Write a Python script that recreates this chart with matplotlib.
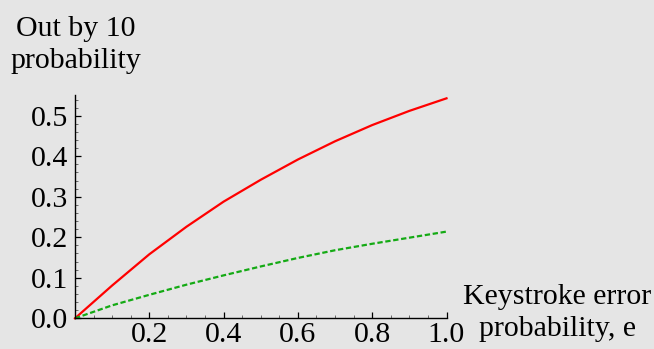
import numpy as np
import matplotlib
matplotlib.use("Agg")
import matplotlib.pyplot as plt
from matplotlib.ticker import MultipleLocator

# keystroke error probability and the two out-by-10 curves
e = [0.0, 0.1, 0.2, 0.3, 0.4, 0.5, 0.6, 0.7, 0.8, 0.9, 1.0]
p_red = [0.0, 0.081, 0.158, 0.226, 0.288, 0.342, 0.392, 0.437, 0.477, 0.512, 0.543]
p_green = [0.0, 0.032, 0.058, 0.083, 0.106, 0.128, 0.149, 0.168, 0.184, 0.199, 0.214]
x_ticks = [0.2, 0.4, 0.6, 0.8, 1.0]
y_ticks = [0.0, 0.1, 0.2, 0.3, 0.4, 0.5]

bg = "#e5e5e5"
plt.rcParams['font.family'] = ['Liberation Serif', 'DejaVu Serif']
fs = 21.5

fig = plt.figure(figsize=(6.54, 3.49), dpi=100, facecolor=bg)
ax = fig.add_axes([75/654, 30.7/349, 371.5/654, 222.8/349])
ax.set_facecolor(bg)

ax.plot(e, p_red, color="#ff0000", lw=1.6, solid_joinstyle='round', clip_on=False)
ax.plot(e, p_green, color="#14aa14", lw=1.6, dashes=(2.4, 1.2), clip_on=False)

ax.set_xlim(0, 1.0)
ax.set_ylim(0, 0.55)
for s in ['top', 'right']:
    ax.spines[s].set_visible(False)
for s in ['left', 'bottom']:
    ax.spines[s].set_linewidth(1.0)

ax.set_xticks(x_ticks)
ax.set_xticklabels(["{:.1f}".format(v) for v in x_ticks])
ax.set_yticks(y_ticks)
ax.set_yticklabels(["{:.1f}".format(v) for v in y_ticks])
ax.xaxis.set_minor_locator(MultipleLocator(0.05))
ax.yaxis.set_minor_locator(MultipleLocator(0.02))
ax.tick_params(which='major', direction='in', length=4.3, width=0.9,
               labelsize=fs, pad=5)
ax.tick_params(which='minor', direction='in', length=2.4, width=0.6,
               color='#555555')
ax.tick_params(axis='x', which='major', pad=2.8)

fig.text(75.5/654, 1 - 74/349, "Out by 10\nprobability", fontsize=fs,
         ha='center', va='bottom', multialignment='center', linespacing=1.3)
fig.text(557.5/654, 1 - 313/349, "Keystroke error\nprobability, e", fontsize=fs,
         ha='center', va='center', multialignment='center', linespacing=1.3)

fig.savefig("out.png", dpi=100, facecolor=bg)
